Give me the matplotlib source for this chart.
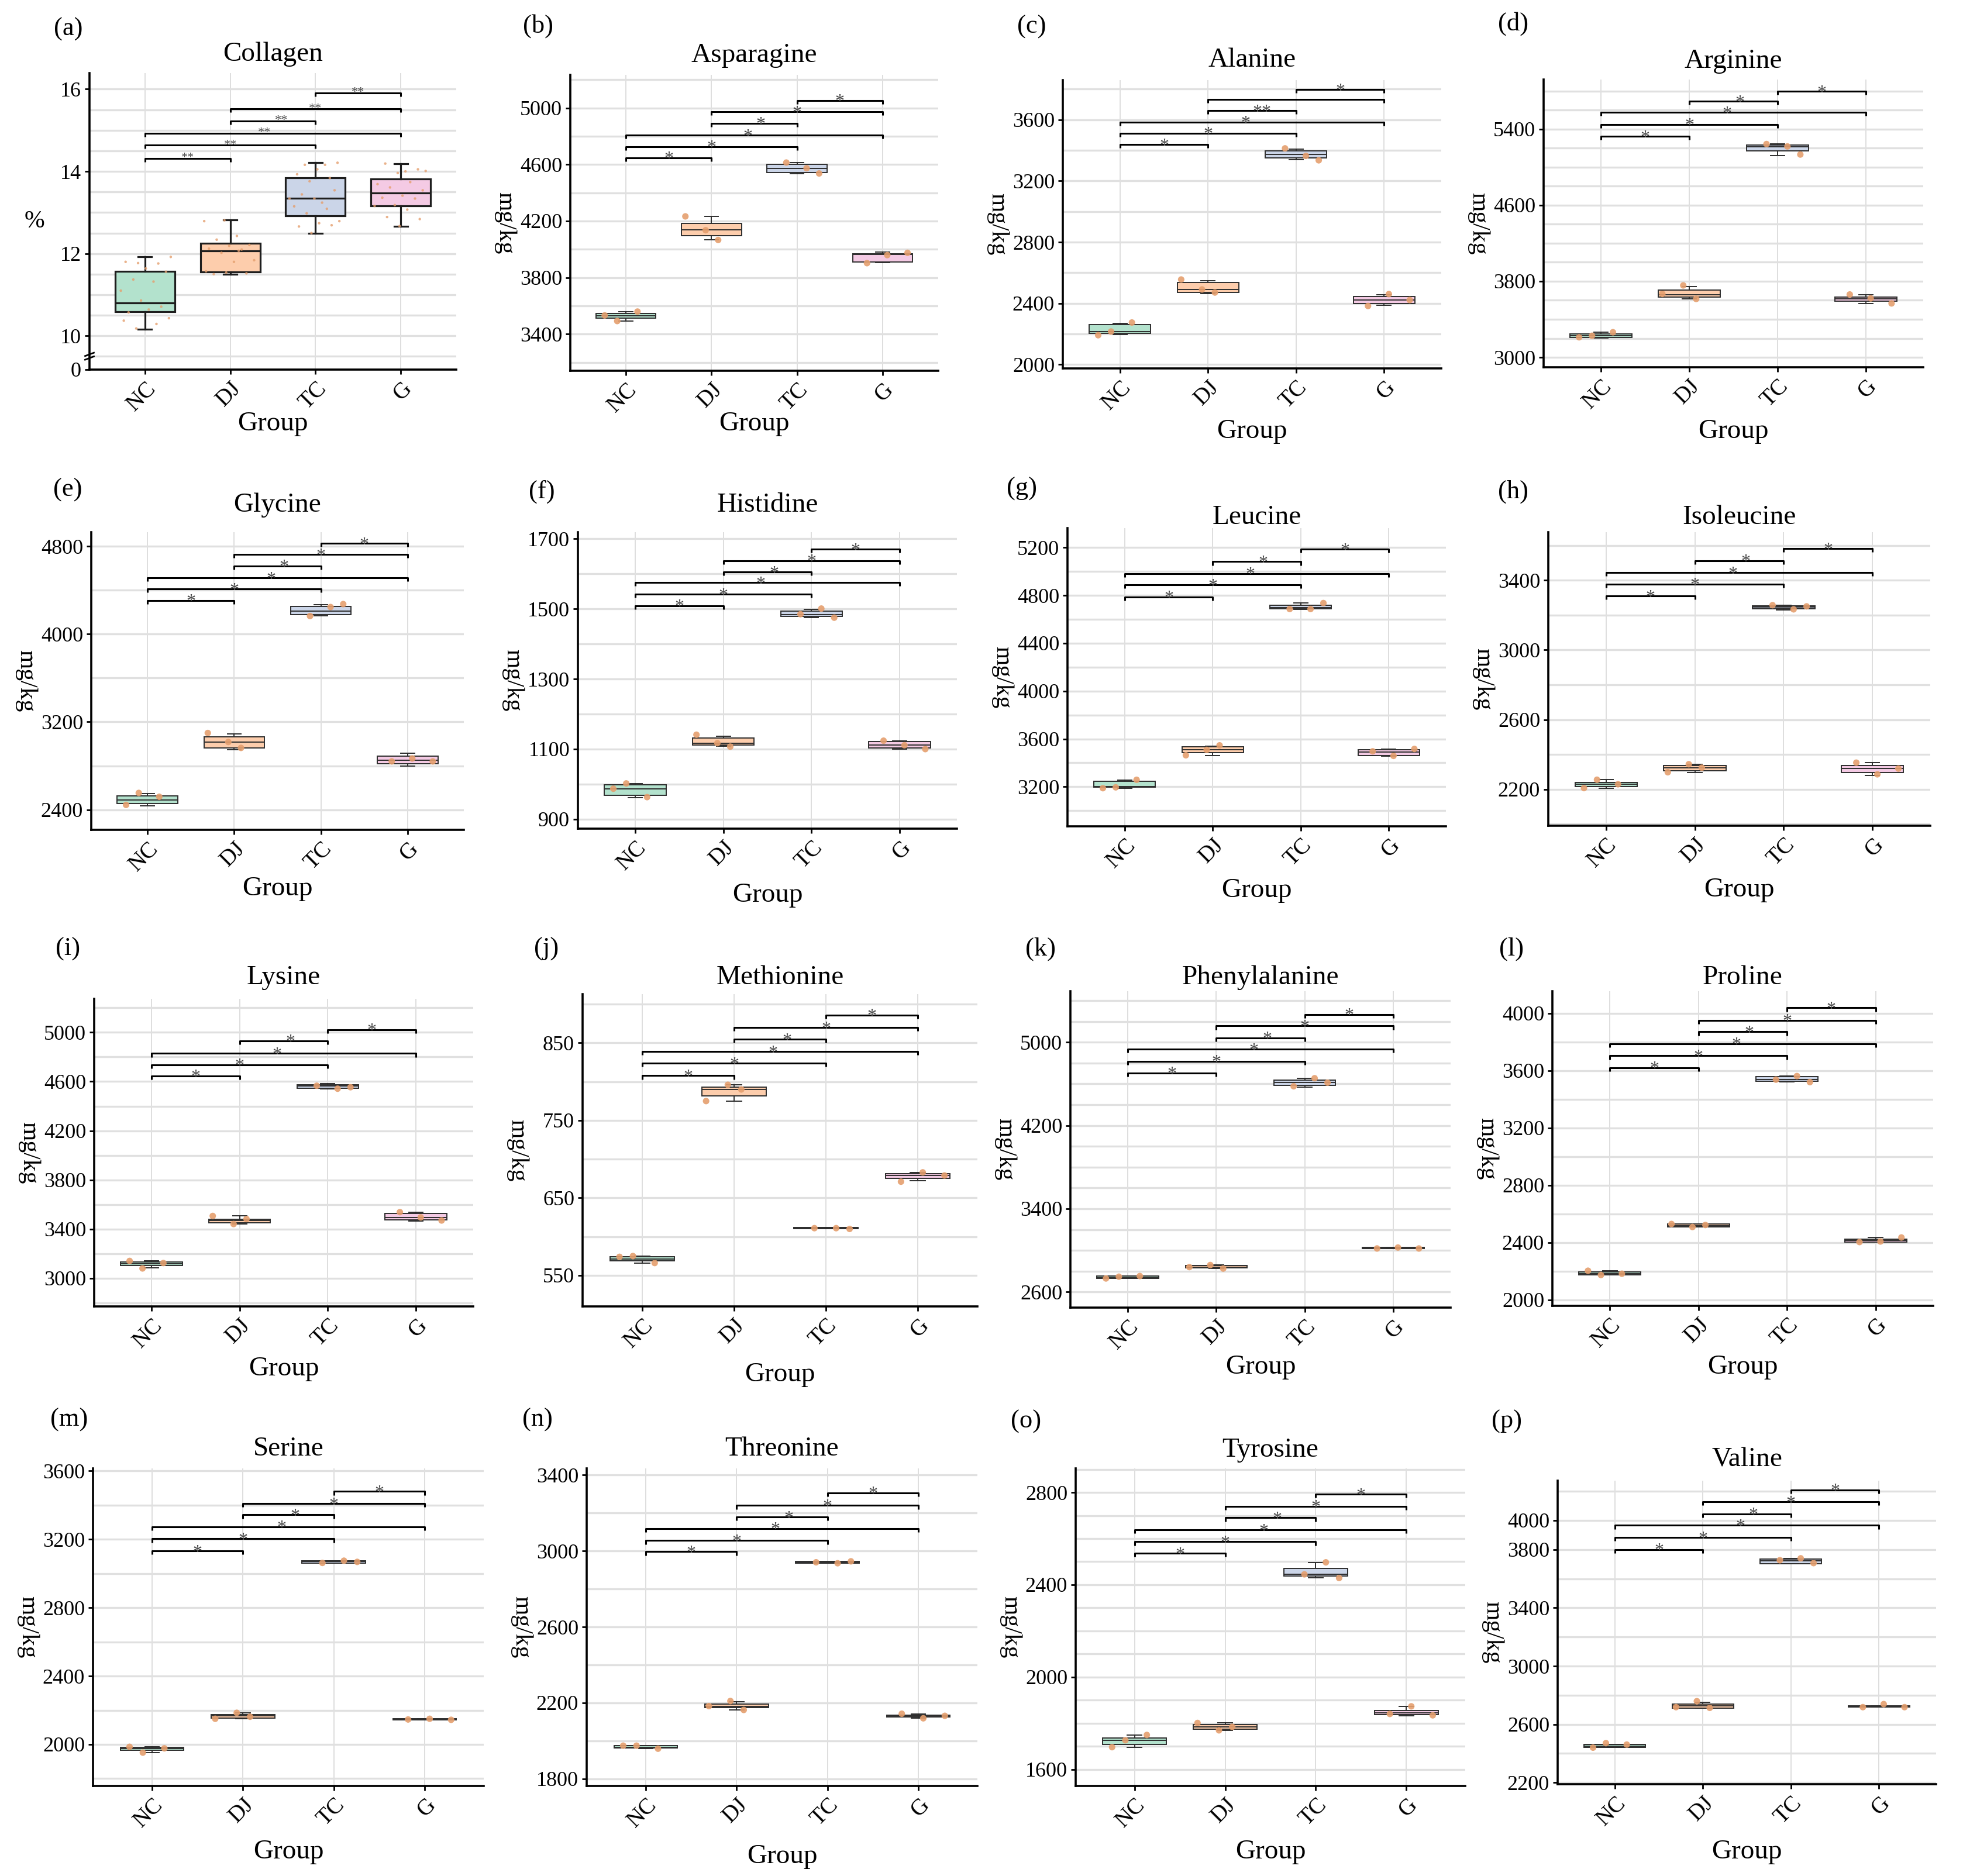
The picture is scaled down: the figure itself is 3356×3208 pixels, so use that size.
import numpy as np
import matplotlib
matplotlib.use('Agg')
import matplotlib.pyplot as plt
from matplotlib.ticker import MultipleLocator
from matplotlib.transforms import blended_transform_factory

plt.rcParams['font.family'] = ['Liberation Serif', 'DejaVu Serif']

groups = ['NC', 'DJ', 'TC', 'G']
box_colors = ['#b3e2cd', '#fdcdac', '#cbd5e8', '#f4cae4']
point_color = '#e59f6e'

# box stats per group: [whisker low, q1, median, q3, whisker high]
collagen_box = [[10.16, 10.59, 10.80, 11.57, 11.92], [11.50, 11.55, 12.07, 12.25, 12.82],
                [12.50, 12.92, 13.34, 13.85, 14.21], [12.67, 13.16, 13.47, 13.82, 14.18]]
collagen_pts = [[10.37, 10.29, 10.18, 10.43, 10.64, 10.57, 10.71, 10.86, 11.10, 11.32, 11.37,
                 11.56, 11.64, 11.80, 11.76, 11.77, 11.92],
                [12.81, 12.79, 12.43, 12.34, 12.21, 12.19, 12.12, 12.10, 12.02, 11.84, 11.80,
                 11.50, 11.52, 11.54, 11.57, 12.07],
                [14.16, 14.16, 14.21, 14.05, 13.93, 13.84, 13.76, 13.34, 13.24, 13.44, 13.54,
                 13.34, 13.15, 13.09, 12.98, 12.79, 12.74, 12.66, 12.69, 12.50],
                [14.01, 14.00, 14.19, 14.05, 13.96, 13.69, 13.74, 13.61, 13.54, 13.41, 13.36,
                 13.34, 13.18, 13.16, 13.07, 12.89, 12.84, 12.67]]
collagen_sig = [(0, 1, 14.32, '**'), (0, 2, 14.64, '**'), (0, 3, 14.93, '**'),
                (1, 2, 15.23, '**'), (1, 3, 15.52, '**'), (2, 3, 15.91, '**')]

asparagine_box = [[3492, 3512, 3528, 3546, 3559], [4066, 4097, 4137, 4182, 4233],
                  [4537, 4543, 4574, 4602, 4612], [3904, 3912, 3965, 3969, 3979]]
asparagine_pts = [[3532, 3559, 3492], [4135, 4233, 4066], [4574, 4614, 4537], [3975, 3959, 3902]]
asparagine_sig = [(0, 1, 4649, '*'), (0, 2, 4726, '*'), (0, 3, 4807, '*'),
                  (1, 2, 4892, '*'), (1, 3, 4974, '*'), (2, 3, 5053, '*')]

alanine_box = [[2196, 2206, 2216, 2261, 2269], [2465, 2471, 2491, 2536, 2550],
               [3341, 3349, 3374, 3398, 3408], [2387, 2399, 2422, 2446, 2457]]
alanine_pts = [[2192, 2275, 2216], [2491, 2556, 2471], [3364, 3413, 3335], [2422, 2461, 2383]]
alanine_sig = [(0, 1, 3437, '*'), (0, 2, 3512, '*'), (0, 3, 3584, '*'),
               (1, 2, 3659, '**'), (1, 3, 3733, ''), (2, 3, 3796, '*')]

arginine_box = [[3204, 3211, 3227, 3249, 3264], [3614, 3636, 3661, 3708, 3746],
                [5123, 5170, 5211, 5233, 5242], [3567, 3589, 3614, 3636, 3661]]
arginine_pts = [[3211, 3264, 3227], [3756, 3667, 3614], [5217, 5242, 5132], [3567, 3620, 3661]]
arginine_sig = [(0, 1, 5321, '*'), (0, 2, 5447, '*'), (0, 3, 5573, '*'),
                (1, 2, 5690, '*'), (2, 3, 5794, '*')]

glycine_box = [[2436, 2458, 2490, 2526, 2545], [2949, 2963, 3017, 3064, 3091],
               [4164, 4178, 4210, 4254, 4268], [2799, 2818, 2853, 2886, 2916]]
glycine_pts = [[2444, 2518, 2553], [3017, 3099, 2963], [4246, 4164, 4273], [2840, 2867, 2840]]
glycine_sig = [(0, 1, 4306, '*'), (0, 2, 4410, '*'), (0, 3, 4511, '*'),
               (1, 2, 4620, '*'), (1, 3, 4724, '*'), (2, 3, 4827, '*')]

histidine_box = [[962, 968, 987, 998, 1002], [1109, 1111, 1116, 1131, 1137],
                 [1475, 1478, 1484, 1494, 1499], [1100, 1103, 1111, 1122, 1124]]
histidine_pts = [[987, 963, 1002], [1117, 1141, 1107], [1501, 1485, 1475], [1100, 1111, 1124]]
histidine_sig = [(0, 1, 1509, '*'), (0, 2, 1542, '*'), (0, 3, 1575, '*'),
                 (1, 2, 1605, '*'), (1, 3, 1638, '*'), (2, 3, 1670, '*')]

leucine_box = [[3188, 3195, 3203, 3245, 3253], [3463, 3483, 3508, 3534, 3538],
               [4681, 4686, 4699, 4716, 4736], [3458, 3463, 3488, 3508, 3516]]
leucine_pts = [[3188, 3258, 3195], [3508, 3463, 3546], [4686, 4686, 4736], [3516, 3458, 3496]]
leucine_sig = [(0, 1, 4787, '*'), (0, 2, 4887, '*'), (0, 3, 4982, '*'),
               (1, 2, 5082, '*'), (2, 3, 5187, '*')]

isoleucine_box = [[2207, 2217, 2229, 2241, 2255], [2298, 2307, 2324, 2336, 2344],
                  [3228, 3236, 3245, 3254, 3257], [2281, 2298, 2319, 2338, 2353]]
isoleucine_pts = [[2207, 2229, 2255], [2344, 2298, 2324], [3233, 3257, 3250], [2319, 2286, 2353]]
isoleucine_sig = [(0, 1, 3309, '*'), (0, 2, 3378, '*'), (0, 3, 3443, '*'),
                  (1, 2, 3512, '*'), (2, 3, 3581, '*')]

lysine_box = [[3085, 3105, 3117, 3134, 3141], [3441, 3451, 3470, 3482, 3507],
              [4542, 4547, 4562, 4574, 4583], [3465, 3475, 3495, 3526, 3538]]
lysine_pts = [[3141, 3124, 3080], [3441, 3507, 3482], [4542, 4566, 4554], [3470, 3495, 3538]]
lysine_sig = [(0, 1, 4647, '*'), (0, 2, 4737, '*'), (0, 3, 4829, '*'),
              (1, 2, 4932, '*'), (2, 3, 5022, '*')]

methionine_box = [[566, 569, 571, 574, 575], [775, 782, 790, 793, 796],
                  [610, 610, 611, 612, 612], [672, 675, 679, 681, 683]]
methionine_pts = [[574, 566, 575], [796, 775, 790], [611, 611, 610], [679, 683, 671]]
methionine_sig = [(0, 1, 808, '*'), (0, 2, 824, '*'), (0, 3, 839, '*'),
                  (1, 2, 855, '*'), (1, 3, 870, '*'), (2, 3, 886, '*')]

phenylalanine_box = [[2730, 2730, 2738, 2753, 2753], [2825, 2831, 2839, 2854, 2859],
                     [4568, 4588, 4611, 4634, 4654], [3018, 3018, 3021, 3027, 3027]]
phenylalanine_pts = [[2730, 2753, 2747], [2859, 2839, 2825], [4654, 4577, 4611], [3018, 3027, 3018]]
phenylalanine_sig = [(0, 1, 4706, '*'), (0, 2, 4818, '*'), (0, 3, 4934, '*'),
                     (1, 2, 5043, '*'), (1, 3, 5158, '*'), (2, 3, 5268, '*')]

proline_box = [[2173, 2173, 2184, 2194, 2203], [2508, 2508, 2518, 2529, 2529],
               [3519, 3526, 3536, 3557, 3561], [2403, 2403, 2414, 2424, 2435]]
proline_pts = [[2203, 2182, 2173], [2508, 2529, 2522], [3561, 3536, 3519], [2435, 2407, 2403]]
proline_sig = [(0, 1, 3620, '*'), (0, 2, 3703, '*'), (0, 3, 3787, '*'),
               (1, 2, 3870, '*'), (1, 3, 3950, '*'), (2, 3, 4038, '*')]

serine_box = [[1952, 1965, 1977, 1982, 1986], [2150, 2153, 2167, 2176, 2185],
              [3062, 3062, 3070, 3075, 3075], [2144, 2144, 2146, 2150, 2150]]
serine_pts = [[1986, 1977, 1952], [2185, 2150, 2162], [3075, 3062, 3068], [2144, 2150, 2146]]
serine_sig = [(0, 1, 3133, '*'), (0, 2, 3203, '*'), (0, 3, 3274, '*'),
              (1, 2, 3343, '*'), (1, 3, 3410, '*'), (2, 3, 3480, '*')]

threonine_box = [[1959, 1963, 1967, 1975, 1975], [2163, 2175, 2183, 2195, 2206],
                 [2935, 2935, 2940, 2945, 2945], [2119, 2127, 2132, 2135, 2143]]
threonine_pts = [[1975, 1959, 1975], [2210, 2183, 2163], [2935, 2940, 2945], [2132, 2119, 2143]]
threonine_sig = [(0, 1, 2996, '*'), (0, 2, 3055, '*'), (0, 3, 3118, '*'),
                 (1, 2, 3179, '*'), (1, 3, 3239, '*'), (2, 3, 3306, '*')]

tyrosine_box = [[1696, 1709, 1726, 1735, 1749], [1769, 1775, 1784, 1795, 1801],
                [2429, 2438, 2445, 2471, 2497], [1831, 1836, 1845, 1854, 1873]]
tyrosine_pts = [[1696, 1749, 1726], [1769, 1801, 1784], [2497, 2445, 2429], [1834, 1873, 1840]]
tyrosine_sig = [(0, 1, 2537, '*'), (0, 2, 2586, '*'), (0, 3, 2638, '*'),
                (1, 2, 2690, '*'), (1, 3, 2740, '*'), (2, 3, 2793, '*')]

valine_box = [[2440, 2440, 2450, 2461, 2461], [2713, 2713, 2728, 2739, 2753],
              [3703, 3703, 3723, 3734, 3740], [2718, 2718, 2722, 2728, 2728]]
valine_pts = [[2440, 2461, 2471], [2759, 2718, 2713], [3740, 3727, 3707], [2718, 2739, 2718]]
valine_sig = [(0, 1, 3800, '*'), (0, 2, 3883, '*'), (0, 3, 3966, '*'),
              (1, 2, 4045, '*'), (1, 3, 4128, '*'), (2, 3, 4210, '*')]

panels = [
    ('Collagen', collagen_box, collagen_pts, collagen_sig, (9.18, 16.39), [10, 12, 14, 16], 0.5, '%'),
    ('Asparagine', asparagine_box, asparagine_pts, asparagine_sig, (3140, 5235), [3400, 3800, 4200, 4600, 5000], 200, 'mg/kg'),
    ('Alanine', alanine_box, alanine_pts, alanine_sig, (1975, 3859), [2000, 2400, 2800, 3200, 3600], 200, 'mg/kg'),
    ('Arginine', arginine_box, arginine_pts, arginine_sig, (2896, 5920), [3000, 3800, 4600, 5400], 200, 'mg/kg'),
    ('Glycine', glycine_box, glycine_pts, glycine_sig, (2217, 4928), [2400, 3200, 4000, 4800], 400, 'mg/kg'),
    ('Histidine', histidine_box, histidine_pts, histidine_sig, (873, 1719), [900, 1100, 1300, 1500, 1700], 100, 'mg/kg'),
    ('Leucine', leucine_box, leucine_pts, leucine_sig, (2869, 5363), [3200, 3600, 4000, 4400, 4800, 5200], 200, 'mg/kg'),
    ('Isoleucine', isoleucine_box, isoleucine_pts, isoleucine_sig, (1991, 3676), [2200, 2600, 3000, 3400], 200, 'mg/kg'),
    ('Lysine', lysine_box, lysine_pts, lysine_sig, (2771, 5273), [3000, 3400, 3800, 4200, 4600, 5000], 200, 'mg/kg'),
    ('Methionine', methionine_box, methionine_pts, methionine_sig, (510, 913), [550, 650, 750, 850], 50, 'mg/kg'),
    ('Phenylalanine', phenylalanine_box, phenylalanine_pts, phenylalanine_sig, (2450, 5490), [2600, 3400, 4200, 5000], 200, 'mg/kg'),
    ('Proline', proline_box, proline_pts, proline_sig, (1958, 4153), [2000, 2400, 2800, 3200, 3600, 4000], 200, 'mg/kg'),
    ('Serine', serine_box, serine_pts, serine_sig, (1757, 3615), [2000, 2400, 2800, 3200, 3600], 200, 'mg/kg'),
    ('Threonine', threonine_box, threonine_pts, threonine_sig, (1763, 3434), [1800, 2200, 2600, 3000, 3400], 200, 'mg/kg'),
    ('Tyrosine', tyrosine_box, tyrosine_pts, tyrosine_sig, (1528, 2904), [1600, 2000, 2400, 2800], 100, 'mg/kg'),
    ('Valine', valine_box, valine_pts, valine_sig, (2189, 4273), [2200, 2600, 3000, 3400, 3800, 4000], 200, 'mg/kg'),
]
letters = 'abcdefghijklmnop'

# pixel layout: axes (left, top, right, bottom), title y, letter (x, y), xlabel offset
W, H = 3356, 3208
layout = [
    ((153, 125, 780, 632), 93, (92, 50), 93),
    ((975, 128, 1604, 634), 95, (894, 45), 91),
    ((1817, 137, 2464, 630), 103, (1739, 46), 108),
    ((2639, 136, 3288, 628), 105, (2561, 41), 110),
    ((156, 910, 793, 1419), 864, (91, 838), 101),
    ((988, 910, 1636, 1417), 864, (904, 841), 114),
    ((1825, 903, 2472, 1413), 885, (1721, 836), 110),
    ((2647, 910, 3300, 1412), 885, (2561, 841), 110),
    ((161, 1708, 809, 2234), 1672, (95, 1623), 107),
    ((996, 1700, 1671, 2234), 1672, (913, 1623), 117),
    ((1830, 1695, 2480, 2236), 1672, (1753, 1623), 102),
    ((2654, 1695, 3305, 2233), 1672, (2563, 1623), 105),
    ((159, 2511, 827, 3054), 2478, (86, 2428), 113),
    ((1003, 2511, 1671, 3054), 2478, (893, 2428), 121),
    ((1839, 2511, 2505, 3054), 2480, (1728, 2431), 113),
    ((2663, 2532, 3310, 3051), 2496, (2550, 2431), 116),
]

fig = plt.figure(figsize=(W / 100, H / 100), dpi=100)

for k, (title, box, pts, sig, ylim, yticks, gstep, unit) in enumerate(panels):
    (l, t, r, b), ty, (lx, ly), xoff = layout[k]
    ax = fig.add_axes([l / W, 1 - b / H, (r - l) / W, (b - t) / H])
    first = k == 0
    edge = '#1e1e1e' if first else '#2e2e2e'
    lw = 2.3 if first else 1.4

    stats = [dict(whislo=s[0], q1=s[1], med=s[2], q3=s[3], whishi=s[4], fliers=[]) for s in box]
    bp = ax.bxp(stats, positions=range(4), widths=0.7, capwidths=0.16, patch_artist=True,
                showfliers=False,
                boxprops=dict(edgecolor=edge, linewidth=lw),
                medianprops=dict(color=edge, linewidth=lw),
                whiskerprops=dict(color=edge, linewidth=lw),
                capprops=dict(color=edge, linewidth=lw))
    for patch, c in zip(bp['boxes'], box_colors):
        patch.set_facecolor(c)
    for a in bp['boxes'] + bp['medians'] + bp['whiskers'] + bp['caps']:
        a.set_zorder(3)

    for g, vals in enumerate(pts):
        n = len(vals)
        off = np.array([((i * 0.618034 + g * 0.29 + 0.1) % 1 - 0.5) * 0.62 for i in range(n)])
        ax.scatter(g + off, vals, s=10 if first else 64, color=point_color,
                   edgecolors='none', alpha=0.9 if not first else 0.8, zorder=4)

    # significance brackets; the two labels stacked at x = 1.5 are nudged apart
    yr = ylim[1] - ylim[0]
    for i, j, y, lab in sig:
        drop = 0.012 * yr
        ax.plot([i, i, j, j], [y - drop, y, y, y - drop], color='black',
                lw=2.2, zorder=5, solid_capstyle='butt')
        if lab:
            xc = (i + j) / 2
            if xc == 1.5:
                shift = 0.1 if first else 0.04 + 0.035 * len(lab)
                xc += -shift if (i, j) == (0, 3) else shift
            fs = 16 if first else 23
            ax.text(xc, y - (0.0 if first else 0.006) * yr, lab, ha='center',
                    va='center', fontsize=fs, color='#4a4a4a', zorder=6)

    ax.set_xlim(-0.65, 3.65)
    ax.set_ylim(*ylim)
    ax.set_xticks(range(4))
    ax.set_xticklabels(groups, rotation=45, ha='right', va='top', rotation_mode='anchor',
                       fontsize=28)
    if first:
        ax.set_yticks([ylim[0]] + yticks)
        ax.set_yticklabels(['0'] + [str(v) for v in yticks], fontsize=26)
        tr = blended_transform_factory(ax.transAxes, ax.transData)
        for dy in (0.0, 0.09):
            ax.plot([-0.012, 0.012], [9.42 + dy, 9.50 + dy], color='black', lw=2.0,
                    transform=tr, clip_on=False, zorder=6)
    else:
        ax.set_yticks(yticks)
        ax.set_yticklabels([str(v) for v in yticks], fontsize=26)
    ax.yaxis.set_minor_locator(MultipleLocator(gstep))
    ax.tick_params(axis='both', which='major', direction='out', length=6, width=2, pad=4)
    ax.tick_params(axis='y', which='minor', length=0)

    ax.set_axisbelow(True)
    ax.yaxis.grid(True, which='both', color='#e0e0e0', linewidth=2.4)
    ax.xaxis.grid(True, which='major', color='#d8d8d8', linewidth=1.2)
    for sp in ('top', 'right'):
        ax.spines[sp].set_visible(False)
    for sp in ('left', 'bottom'):
        ax.spines[sp].set_linewidth(2.6)
        ax.spines[sp].set_color('black')

    w_px, h_px = r - l, b - t
    if unit == '%':
        ax.set_ylabel(unit, rotation=0, fontsize=30, ha='center', va='center')
        ax.yaxis.set_label_coords(-94 / w_px, 0.5)
    else:
        ax.set_ylabel(unit, rotation=270, fontsize=30, ha='center', va='center')
        ax.yaxis.set_label_coords(-112 / w_px, 0.5)
    ax.set_xlabel('Group', fontsize=34, va='center')
    ax.xaxis.set_label_coords(0.5, -xoff / h_px)

    fig.text((l + r) / 2 / W, 1 - ty / H, title, ha='center', va='center', fontsize=34)
    fig.text(lx / W, 1 - ly / H, '(%s)' % letters[k], ha='left', va='center', fontsize=32)

fig.savefig('out.png', dpi=100)
